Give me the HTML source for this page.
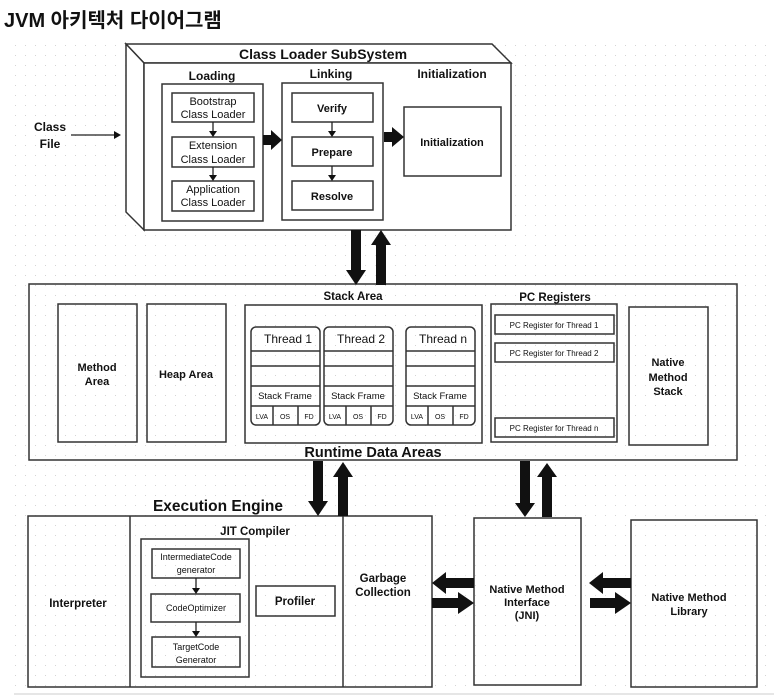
<!DOCTYPE html>
<html><head><meta charset="utf-8"><style>
html,body{margin:0;padding:0;background:#fff;width:782px;height:699px;overflow:hidden}
svg{display:block}
text{font-family:"Liberation Sans",Arial,sans-serif;fill:#111}
</style></head><body>
<svg width="782" height="699" viewBox="0 0 782 699" xmlns="http://www.w3.org/2000/svg">
<defs>
<pattern id="dots" width="10" height="10" patternUnits="userSpaceOnUse"><rect x="5" y="5" width="1" height="1" fill="#d4d4d4"/></pattern>
</defs>
<rect x="14" y="36" width="760" height="655" fill="url(#dots)"/>
<rect x="14" y="693" width="760" height="2" fill="#e6e6e6"/>
<text x="4" y="27" font-size="20" font-weight="bold" style="font-family:'Liberation Sans','Noto Sans CJK KR',sans-serif">JVM 아키텍처 다이어그램</text>

<g fill="none" stroke="#333" stroke-width="1.5">
<polygon points="126,44 492,44 511,63 144,63" fill="#fff"/>
<polygon points="126,44 144,63 144,230 126,212" fill="#fff"/>
<rect x="144" y="63" width="367" height="167" fill="#fff"/>
<rect x="162" y="84" width="101" height="137"/>
<rect x="172" y="93" width="82" height="29"/>
<rect x="172" y="137" width="82" height="30"/>
<rect x="172" y="181" width="82" height="30"/>
<rect x="282" y="83" width="101" height="137"/>
<rect x="292" y="93" width="81" height="29"/>
<rect x="292" y="137" width="81" height="29"/>
<rect x="292" y="181" width="81" height="29"/>
<rect x="404" y="107" width="97" height="69"/>
<rect x="29" y="284" width="708" height="176"/>
<rect x="58" y="304" width="79" height="138"/>
<rect x="147" y="304" width="79" height="138"/>
<rect x="245" y="305" width="237" height="138"/>
<rect x="491" y="304" width="126" height="138"/>
<rect x="495" y="315" width="119" height="19"/>
<rect x="495" y="343" width="119" height="19"/>
<rect x="495" y="418" width="119" height="19"/>
<rect x="629" y="307" width="79" height="138"/>
<rect x="28" y="516" width="404" height="171"/>
<line x1="130" y1="516" x2="130" y2="687"/>
<line x1="343" y1="516" x2="343" y2="687"/>
<rect x="141" y="539" width="108" height="138"/>
<rect x="152" y="549" width="88" height="29"/>
<rect x="151" y="594" width="89" height="28"/>
<rect x="152" y="637" width="88" height="30"/>
<rect x="256" y="586" width="79" height="30"/>
<rect x="474" y="518" width="107" height="167"/>
<rect x="631" y="520" width="126" height="167"/>
</g>
<g fill="none" stroke="#333" stroke-width="1.5">
<g id="th">
<rect x="251" y="327" width="69" height="98" rx="5"/>
<line x1="251" y1="351" x2="320" y2="351"/>
<line x1="251" y1="366" x2="320" y2="366"/>
<line x1="251" y1="386" x2="320" y2="386"/>
<line x1="251" y1="406" x2="320" y2="406"/>
<line x1="273" y1="406" x2="273" y2="425"/>
<line x1="298" y1="406" x2="298" y2="425"/>
</g>
<use href="#th" x="73"/>
<use href="#th" x="155"/>
</g>
<g stroke="#222" stroke-width="1.3">
<line x1="71" y1="135" x2="118" y2="135"/>
<line x1="213" y1="122" x2="213" y2="133"/>
<line x1="213" y1="167" x2="213" y2="177"/>
<line x1="332" y1="122" x2="332" y2="133"/>
<line x1="332" y1="166" x2="332" y2="177"/>
<line x1="196" y1="578" x2="196" y2="590"/>
<line x1="196" y1="622" x2="196" y2="633"/>
</g>
<g fill="#111">
<polygon points="121,135 114,131 114,139"/>
<polygon points="213,137 209,131 217,131"/>
<polygon points="213,181 209,175 217,175"/>
<polygon points="332,137 328,131 336,131"/>
<polygon points="332,181 328,175 336,175"/>
<polygon points="196,594 192,588 200,588"/>
<polygon points="196,637 192,631 200,631"/>
<polygon points="263,135 271,135 271,130 282,140 271,150 271,145 263,145"/>
<polygon points="384,132 392,132 392,127 404,137 392,147 392,142 384,142"/>
<polygon points="351,230 361,230 361,270 366,270 356,285 346,270 351,270"/>
<polygon points="376,285 386,285 386,245 391,245 381,230 371,245 376,245"/>
<polygon points="313,461 323,461 323,501 328,501 318,516 308,501 313,501"/>
<polygon points="338,516 348,516 348,477 353,477 343,462 333,477 338,477"/>
<polygon points="520,461 530,461 530,503 535,503 525,517 515,503 520,503"/>
<polygon points="542,517 552,517 552,477 557,477 547,463 537,477 542,477"/>
<polygon points="474,578 446,578 446,572 432,583 446,594 446,588 474,588"/>
<polygon points="432,598 458,598 458,592 474,603 458,614 458,608 432,608"/>
<polygon points="631,578 603,578 603,572 589,583 603,594 603,588 631,588"/>
<polygon points="590,598 615,598 615,592 631,603 615,614 615,608 590,608"/>
</g>

<g font-size="12" text-anchor="middle">
<text x="323" y="59" font-size="14" font-weight="bold">Class Loader SubSystem</text>
<text x="212" y="80" font-weight="bold">Loading</text>
<text x="331" y="78" font-weight="bold">Linking</text>
<text x="452" y="78" font-weight="bold">Initialization</text>
<text x="50" y="131" font-weight="bold">Class</text>
<text x="50" y="148" font-weight="bold">File</text>
<text x="213" y="105" font-size="11">Bootstrap</text>
<text x="213" y="118" font-size="11">Class Loader</text>
<text x="213" y="149" font-size="11">Extension</text>
<text x="213" y="163" font-size="11">Class Loader</text>
<text x="213" y="193" font-size="11">Application</text>
<text x="213" y="206" font-size="11">Class Loader</text>
<text x="332" y="112" font-size="11" font-weight="bold">Verify</text>
<text x="332" y="156" font-size="11" font-weight="bold">Prepare</text>
<text x="332" y="200" font-size="11" font-weight="bold">Resolve</text>
<text x="452" y="146" font-size="11" font-weight="bold">Initialization</text>

<text x="353" y="300" font-size="11.5" font-weight="bold">Stack Area</text>
<text x="555" y="301" font-size="11.5" font-weight="bold">PC Registers</text>
<text x="97" y="371" font-size="11" font-weight="bold">Method</text>
<text x="97" y="385" font-size="11" font-weight="bold">Area</text>
<text x="186" y="378" font-size="11" font-weight="bold">Heap Area</text>
<text x="668" y="366" font-size="11" font-weight="bold">Native</text>
<text x="668" y="381" font-size="11" font-weight="bold">Method</text>
<text x="668" y="395" font-size="11" font-weight="bold">Stack</text>
<text x="288" y="343" font-size="12">Thread 1</text>
<text x="361" y="343" font-size="12">Thread 2</text>
<text x="443" y="343" font-size="12">Thread n</text>
<text x="285" y="399" font-size="9.5">Stack Frame</text>
<text x="358" y="399" font-size="9.5">Stack Frame</text>
<text x="440" y="399" font-size="9.5">Stack Frame</text>
<g font-size="7">
<text x="262" y="419">LVA</text><text x="285" y="419">OS</text><text x="309" y="419">FD</text>
<text x="335" y="419">LVA</text><text x="358" y="419">OS</text><text x="382" y="419">FD</text>
<text x="417" y="419">LVA</text><text x="440" y="419">OS</text><text x="464" y="419">FD</text>
</g>
<g font-size="8">
<text x="554" y="328">PC Register for Thread 1</text>
<text x="554" y="356">PC Register for Thread 2</text>
<text x="554" y="431">PC Register for Thread n</text>
</g>
<text x="373" y="457" font-size="14.5" font-weight="bold">Runtime Data Areas</text>

<text x="218" y="511" font-size="15.5" font-weight="bold">Execution Engine</text>
<text x="255" y="535" font-size="11.5" font-weight="bold">JIT Compiler</text>
<text x="78" y="607" font-size="11.5" font-weight="bold">Interpreter</text>
<text x="196" y="560" font-size="9">IntermediateCode</text>
<text x="196" y="573" font-size="9">generator</text>
<text x="196" y="611" font-size="9">CodeOptimizer</text>
<text x="196" y="650" font-size="9">TargetCode</text>
<text x="196" y="663" font-size="9">Generator</text>
<text x="295" y="605" font-size="11.5" font-weight="bold">Profiler</text>
<text x="383" y="582" font-size="11.5" font-weight="bold">Garbage</text>
<text x="383" y="596" font-size="11.5" font-weight="bold">Collection</text>
<text x="527" y="593" font-size="11" font-weight="bold">Native Method</text>
<text x="527" y="606" font-size="11" font-weight="bold">Interface</text>
<text x="527" y="619" font-size="11" font-weight="bold">(JNI)</text>
<text x="689" y="601" font-size="11" font-weight="bold">Native Method</text>
<text x="689" y="615" font-size="11" font-weight="bold">Library</text>
</g>
</svg>
</body></html>
